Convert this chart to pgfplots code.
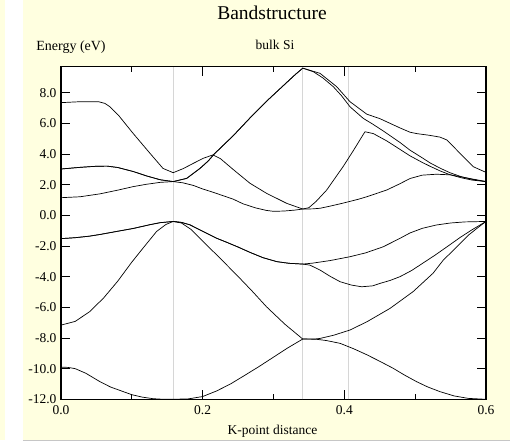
\documentclass[border=0pt]{standalone}
\usepackage{fontspec}
\setmainfont{Liberation Serif}
\usepackage{pgfplots}
\pgfplotsset{compat=1.18}
\definecolor{bgYellow}{HTML}{FFFFE0}
\definecolor{kLine}{HTML}{D6D6D6}
\begin{document}
\begin{tikzpicture}
\useasboundingbox (-61pt,-42.7pt) rectangle (449pt,399.3pt);
\fill[bgYellow] (-38pt,-40.7pt) rectangle (449pt,399.3pt);
\fill[bgYellow] (-61pt,-40.7pt) rectangle (-56pt,399.3pt);
\draw[gray!45,line width=0.8pt] (-38pt,-40.7pt) -- (449pt,-40.7pt);
\begin{axis}[at={(0pt,0pt)},anchor=south west,scale only axis,
    width=425pt,height=332.7pt,
    xmin=0,xmax=0.6,ymin=-12,ymax=9.7,
    axis background/.style={fill=white},
    axis line style={line width=1.5pt},
    every tick/.style={black,line width=0.9pt},
    major tick length=9pt,minor tick length=5pt,
    xtick={0,0.2,0.4,0.6},xticklabels={0.0,0.2,0.4,0.6},
    minor xtick={0.1,0.3,0.5},
    ytick={-12,-10,-8,-6,-4,-2,0,2,4,6,8},
    yticklabels={-12.0,-10.0,-8.0,-6.0,-4.0,-2.0,0.0,2.0,4.0,6.0,8.0},
    tick label style={font=\fontsize{13.5}{15}\selectfont},
    xticklabel style={yshift=-2.5pt},
    yticklabel style={xshift=-1pt},
    /pgf/number format/assume math mode=true,
    clip=true]
% high-symmetry k-points: Gamma, X, U|K
\addplot[kLine,line width=0.8pt] coordinates {(0.1584,-12)(0.1584,9.7)};
\addplot[kLine,line width=0.8pt] coordinates {(0.3413,-12)(0.3413,9.7)};
\addplot[kLine,line width=0.8pt] coordinates {(0.4060,-12)(0.4060,9.7)};
% band 1
\addplot[black,line width=0.7pt] coordinates {
(0,-9.9)(0.01,-9.92)(0.02,-10.0)(0.035,-10.3)(0.055,-10.85)(0.07,-11.2)(0.085,-11.45)(0.1,-11.7)(0.115,-11.86)(0.13,-11.96)(0.145,-12.0)(0.1584,-12.0)
(0.18,-11.97)(0.2,-11.82)(0.22,-11.45)(0.24,-10.98)(0.26,-10.42)(0.28,-9.85)(0.3,-9.25)(0.32,-8.65)(0.3413,-8.07)
(0.36,-8.08)(0.375,-8.17)(0.394,-8.35)(0.413,-8.7)(0.432,-9.1)(0.45,-9.52)(0.4687,-9.97)(0.485,-10.42)(0.502,-10.85)(0.518,-11.2)(0.535,-11.5)(0.555,-11.78)(0.575,-11.94)(0.6,-12.0)};
% band 2
\addplot[black,line width=0.7pt] coordinates {
(0,-7.16)(0.02,-6.92)(0.04,-6.3)(0.06,-5.4)(0.08,-4.3)(0.1,-3.05)(0.12,-1.9)(0.135,-1.05)(0.148,-0.6)(0.1584,-0.4)
(0.17,-0.5)(0.183,-0.9)(0.196,-1.5)(0.22,-2.59)(0.248,-3.89)(0.27,-4.95)(0.29,-5.96)(0.316,-7.1)(0.3413,-8.07)
(0.36,-8.06)(0.3657,-8.03)(0.385,-7.82)(0.408,-7.48)(0.432,-6.94)(0.4645,-6.07)(0.497,-4.98)(0.5252,-3.78)(0.5397,-2.92)(0.559,-2.05)(0.575,-1.3)(0.59,-0.75)(0.6,-0.4)};
% band 3
\addplot[black,line width=0.7pt] coordinates {
(0,-1.52)(0.02,-1.46)(0.04,-1.36)(0.055,-1.25)(0.08,-1.04)(0.1017,-0.86)(0.1257,-0.61)(0.14,-0.48)(0.1584,-0.4)
(0.17,-0.46)(0.182,-0.62)(0.196,-0.95)(0.22,-1.5)(0.234,-1.76)(0.25,-2.07)(0.267,-2.42)(0.285,-2.76)(0.3045,-3.02)(0.322,-3.13)(0.3413,-3.18)
(0.3515,-3.25)(0.3657,-3.57)(0.38,-3.98)(0.394,-4.33)(0.41,-4.55)(0.4245,-4.66)(0.44,-4.6)(0.4504,-4.44)(0.4645,-4.25)(0.4786,-4.0)(0.495,-3.6)(0.5115,-3.1)(0.528,-2.6)(0.545,-2.05)(0.5633,-1.45)(0.58,-0.95)(0.6,-0.4)};
% band 4
\addplot[black,line width=0.7pt] coordinates {
(0,-1.52)(0.02,-1.46)(0.04,-1.36)(0.055,-1.25)(0.08,-1.04)(0.1017,-0.86)(0.1257,-0.61)(0.14,-0.48)(0.1584,-0.4)
(0.17,-0.46)(0.182,-0.62)(0.196,-0.95)(0.22,-1.5)(0.234,-1.76)(0.25,-2.07)(0.267,-2.42)(0.285,-2.76)(0.3045,-3.02)(0.322,-3.13)(0.3413,-3.18)
(0.355,-3.12)(0.38,-2.95)(0.408,-2.7)(0.43,-2.45)(0.455,-2.05)(0.4786,-1.5)(0.4927,-1.15)(0.51,-0.85)(0.53,-0.63)(0.55,-0.5)(0.57,-0.43)(0.6,-0.4)};
% band 5
\addplot[black,line width=0.7pt] coordinates {
(0,1.15)(0.0268,1.21)(0.055,1.4)(0.0809,1.65)(0.1017,1.87)(0.12,2.02)(0.14,2.15)(0.1584,2.2)
(0.172,2.12)(0.1868,1.95)(0.2,1.72)(0.215,1.5)(0.2433,1.05)(0.257,0.75)(0.275,0.48)(0.29,0.32)(0.3,0.26)(0.315,0.28)(0.33,0.34)(0.3413,0.41)
(0.355,0.42)(0.3657,0.46)(0.38,0.6)(0.3986,0.8)(0.42,1.05)(0.4316,1.21)(0.4598,1.65)(0.478,2.05)(0.4927,2.4)(0.51,2.62)(0.53,2.68)(0.55,2.64)(0.575,2.42)(0.6,2.2)};
% band 6
\addplot[black,line width=0.7pt] coordinates {
(0,3.02)(0.027,3.13)(0.05,3.2)(0.065,3.21)(0.08,3.12)(0.1017,2.86)(0.12,2.58)(0.14,2.32)(0.1584,2.2)
(0.1775,2.41)(0.1962,3.06)(0.208,3.55)(0.215,3.93)(0.225,3.7)(0.2428,3.0)(0.2668,2.09)(0.2904,1.43)(0.3187,0.78)(0.3413,0.41)
(0.35,0.5)(0.36,0.9)(0.3751,1.65)(0.3986,3.2)(0.4127,4.22)(0.4268,5.28)(0.4292,5.45)(0.441,5.33)(0.46,4.85)(0.4786,4.3)(0.4927,3.88)(0.51,3.45)(0.521,3.2)(0.535,2.9)(0.549,2.65)(0.565,2.45)(0.58,2.3)(0.6,2.2)};
% band 7
\addplot[black,line width=0.7pt] coordinates {
(0,3.02)(0.027,3.13)(0.05,3.2)(0.065,3.21)(0.08,3.12)(0.1017,2.86)(0.12,2.58)(0.14,2.32)(0.1584,2.2)
(0.1775,2.41)(0.1962,3.06)(0.208,3.55)(0.215,3.93)(0.2433,5.2)(0.2668,6.35)(0.2904,7.45)(0.316,8.55)(0.33,9.15)(0.3413,9.6)
(0.3562,9.37)(0.37,8.95)(0.3844,8.39)(0.396,7.8)(0.408,7.08)(0.4268,6.32)(0.44,5.95)(0.455,5.5)(0.4786,4.75)(0.4927,4.25)(0.51,3.75)(0.521,3.42)(0.535,3.08)(0.549,2.78)(0.565,2.52)(0.58,2.35)(0.6,2.2)};
% band 8
\addplot[black,line width=0.7pt] coordinates {
(0,7.35)(0.027,7.41)(0.053,7.41)(0.062,7.3)(0.0692,7.08)(0.0734,6.87)(0.0809,6.54)(0.1017,5.35)(0.1257,4.04)(0.144,3.06)(0.1584,2.78)
(0.1727,3.05)(0.1868,3.39)(0.2009,3.72)(0.215,3.95)(0.2433,5.2)(0.2668,6.35)(0.2904,7.45)(0.316,8.55)(0.33,9.15)(0.3413,9.6)
(0.3657,9.26)(0.3892,8.39)(0.408,7.41)(0.4316,6.6)(0.4504,6.3)(0.4786,5.7)(0.4927,5.42)(0.5022,5.33)(0.52,5.22)(0.5351,5.1)(0.5445,4.92)(0.5587,4.26)(0.5633,4.04)(0.5774,3.39)(0.5821,3.17)(0.6,2.8)};
\end{axis}
\node[font=\fontsize{19.5}{22}\selectfont] at (211pt,386pt) {Bandstructure};
\node[font=\fontsize{14}{16}\selectfont] at (10pt,352pt) {Energy (eV)};
\node[font=\fontsize{13.5}{15}\selectfont] at (214pt,354pt) {bulk Si};
\node[font=\fontsize{13.5}{15}\selectfont] at (211.5pt,-31.5pt) {K-point distance};
\end{tikzpicture}
\end{document}
